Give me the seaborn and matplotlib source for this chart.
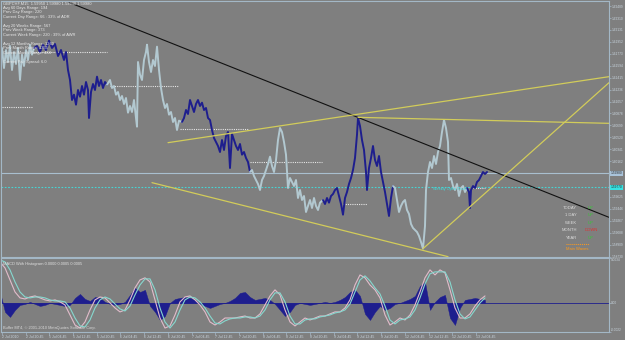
import matplotlib
matplotlib.use("Agg")
import matplotlib.pyplot as plt
import pandas as pd
import seaborn as sns

# ---------------- data ----------------
wave1_bar = [0, 2, 4, 6, 8, 10, 12, 14, 16, 18, 20, 22, 24, 26, 28, 30, 32, 34]
wave1_price = [1.6176, 1.6186, 1.6156, 1.6183, 1.6165, 1.6189, 1.6153, 1.6180, 1.6162, 1.6186,
               1.6138, 1.6176, 1.6159, 1.6183, 1.6168, 1.6191, 1.6176, 1.6186]
wave2_bar = [34, 37, 40, 43, 46, 49, 52, 55, 58, 61, 64, 66, 68, 70, 72, 74, 76, 78, 80, 82, 84, 86,
             88, 89, 91, 93, 95, 97, 99, 101, 103, 105, 107]
wave2_price = [1.6186, 1.6189, 1.6180, 1.6191, 1.6183, 1.6197, 1.6186, 1.6192, 1.6174, 1.6183, 1.6168,
               1.6180, 1.6153, 1.6138, 1.6108, 1.6116, 1.6101, 1.6123, 1.6113, 1.6129, 1.6116, 1.6135,
               1.6123, 1.6081, 1.6120, 1.6132, 1.6123, 1.6143, 1.6129, 1.6138, 1.6126, 1.6135, 1.6131]
wave3_bar = [107, 110, 112, 114, 116, 118, 120, 122, 124, 126, 128, 130, 132, 134, 136, 137, 138, 140,
             142, 144, 146, 147, 149, 151, 153, 155, 157, 159, 161, 163, 165, 167, 169, 171, 173, 175,
             177, 179, 182]
wave3_price = [1.6131, 1.6138, 1.6126, 1.6129, 1.6116, 1.6120, 1.6108, 1.6114, 1.6102, 1.6111, 1.6089,
               1.6099, 1.6090, 1.6108, 1.6081, 1.6068, 1.6165, 1.6146, 1.6138, 1.6168, 1.6180, 1.6191,
               1.6165, 1.6150, 1.6168, 1.6159, 1.6188, 1.6153, 1.6126, 1.6108, 1.6096, 1.6102, 1.6086,
               1.6090, 1.6075, 1.6081, 1.6063, 1.6077, 1.6075]
wave4_bar = [182, 184, 186, 188, 190, 192, 194, 196, 198, 200, 202, 204, 206, 208, 210, 212, 214, 216,
             218, 220, 222, 224, 226, 228, 230, 232, 234, 236, 238, 240, 242, 244, 246, 248, 250]
wave4_price = [1.6075, 1.6081, 1.6093, 1.6087, 1.6108, 1.6099, 1.6090, 1.6102, 1.6108, 1.6099, 1.6104,
               1.6093, 1.6096, 1.6081, 1.6078, 1.6063, 1.6051, 1.6045, 1.6039, 1.6030, 1.6048, 1.6033,
               1.6054, 1.6060, 1.6006, 1.6057, 1.6048, 1.6039, 1.6033, 1.6042, 1.6026, 1.6030, 1.6021,
               1.6015, 1.6000]
wave5_bar = [250, 252, 254, 256, 258, 260, 262, 264, 266, 268, 270, 272, 274, 276, 278, 280, 282, 284,
             286, 288, 290, 292, 294, 296, 298, 300, 302, 304, 306, 308, 310, 312, 314, 316, 318, 320, 323]
wave5_price = [1.6000, 1.6003, 1.5994, 1.5988, 1.5982, 1.5973, 1.5988, 1.5994, 1.6003, 1.6012, 1.6023,
               1.6009, 1.6000, 1.6018, 1.6048, 1.6066, 1.6060, 1.6045, 1.6026, 1.5976, 1.5991, 1.5985,
               1.5979, 1.5988, 1.5961, 1.5973, 1.5958, 1.5964, 1.5940, 1.5949, 1.5958, 1.5946, 1.5961,
               1.5949, 1.5943, 1.5954, 1.5958]
wave6_bar = [323, 325, 327, 329, 331, 333, 335, 337, 339, 341, 343, 345, 347, 349, 351, 353, 355, 357,
             358, 360, 362, 364, 366, 367, 369, 371, 373, 375, 377, 379, 381, 383, 385, 387, 389, 391, 393]
wave6_price = [1.5958, 1.5952, 1.5961, 1.5954, 1.5964, 1.5967, 1.5973, 1.5976, 1.5964, 1.5952, 1.5936,
               1.5961, 1.5970, 1.5982, 1.5991, 1.6003, 1.6021, 1.6056, 1.6081, 1.6069, 1.6048, 1.6033,
               1.6000, 1.5973, 1.6006, 1.6021, 1.6039, 1.6018, 1.6009, 1.6024, 1.6000, 1.5985, 1.5970,
               1.5952, 1.5934, 1.5961, 1.5979]
wave7_bar = [393, 395, 397, 399, 401, 403, 405, 407, 409, 411, 413, 415, 417, 419, 421, 423, 425, 426,
             428, 430, 432, 434, 436, 438, 440, 442, 444, 446, 448, 449, 451, 453, 455, 457, 459, 461,
             463, 465, 467]
wave7_price = [1.5979, 1.5976, 1.5958, 1.5940, 1.5949, 1.5955, 1.5958, 1.5943, 1.5937, 1.5922, 1.5916,
               1.5913, 1.5910, 1.5904, 1.5895, 1.5885, 1.5919, 1.5973, 1.6000, 1.6015, 1.6006, 1.6024,
               1.6012, 1.6030, 1.6039, 1.6060, 1.6078, 1.6066, 1.6045, 1.5988, 1.5991, 1.5979, 1.5973,
               1.5982, 1.5964, 1.5976, 1.5979, 1.5970, 1.5976]
wave8_bar = [467, 469, 470, 471, 473, 475, 477, 479, 481, 483, 485, 487]
wave8_price = [1.5976, 1.5970, 1.5946, 1.5973, 1.5979, 1.5976, 1.5985, 1.5988, 1.5994, 1.6000,
               1.5997, 1.6000]

bid_price = 1.59980
weekly_open_price = 1.59770

level_start = [2, 33, 110, 180, 250, 343, 473]
level_end = [33, 107, 178, 248, 322, 367, 485]
level_price = [1.6098, 1.6180, 1.6129, 1.6065, 1.6015, 1.5952, 1.5976]

black_bar = [68, 609]
black_price = [1.6255, 1.5932]
yellow_lines_bar = [[168, 609], [358, 609], [423, 609], [152, 448]]
yellow_lines_price = [[1.6044, 1.6143], [1.6082, 1.6073], [1.5885, 1.6134], [1.5984, 1.5873]]

price_ticks = [1.58730, 1.58909, 1.59088, 1.59267, 1.59446, 1.59625, 1.60162, 1.60341,
               1.60520, 1.60699, 1.60878, 1.61057, 1.61236, 1.61415, 1.61594, 1.61773,
               1.61952, 1.62131, 1.62310, 1.62489]

macd_bar = list(range(0, 490, 5))
macd_main = [0.0031, 0.00265, 0.00174, 0.00083, 0.00038, 0.00030, 0.00045, 0.00053, 0.00038, 0.00023,
             0.00015, 0.00023, 0.00008, -0.00015, -0.00091, -0.00167, -0.00190, -0.00144, -0.00053, 0.00023,
             0.00045, 0.00038, 0.0, -0.00038, -0.00068, -0.00053, 0.00023, 0.00114, 0.00174, 0.00190,
             0.00159, 0.00023, -0.00114, -0.00190, -0.00174, -0.00091, 0.00008, 0.00045, 0.00053, 0.00023,
             -0.00015, -0.00068, -0.00144, -0.00167, -0.00144, -0.00114, -0.00114, -0.00114, -0.00106, -0.00099,
             -0.00114, -0.00114, -0.00083, -0.00015, 0.00053, 0.00099, 0.00061, -0.00053, -0.00144, -0.00174,
             -0.00144, -0.00114, -0.00129, -0.00114, -0.00099, -0.00099, -0.00083, -0.00068, -0.00068, -0.00038,
             0.00023, 0.00136, 0.00212, 0.00190, 0.00136, 0.00099, 0.00038, -0.00091, -0.00167, -0.00144,
             -0.00114, -0.00129, -0.00091, -0.00015, 0.00083, 0.00190, 0.00250, 0.00212, 0.00250, 0.00227,
             0.00099, -0.00038, -0.00114, -0.00114, -0.00083, -0.00023, 0.00023, 0.00053]
macd_signal = [0.00326, 0.0031, 0.00250, 0.00159, 0.00083, 0.00045, 0.00038, 0.00045, 0.00045, 0.00038,
               0.00023, 0.00015, 0.00015, 0.00008, -0.00038, -0.00114, -0.00174, -0.00182, -0.00129, -0.00038,
               0.00023, 0.00045, 0.00030, -0.00008, -0.00045, -0.00061, -0.00023, 0.00061, 0.00136, 0.00182,
               0.00182, 0.00099, -0.00038, -0.00144, -0.00190, -0.00144, -0.00053, 0.00023, 0.00045, 0.00038,
               0.00008, -0.00038, -0.00099, -0.00152, -0.00159, -0.00136, -0.00121, -0.00114, -0.00114, -0.00106,
               -0.00106, -0.00114, -0.00099, -0.00053, 0.00023, 0.00076, 0.00076, 0.00008, -0.00099, -0.00159,
               -0.00159, -0.00129, -0.00121, -0.00121, -0.00106, -0.00099, -0.00091, -0.00076, -0.00068, -0.00053,
               -0.00008, 0.00083, 0.00174, 0.00205, 0.00167, 0.00114, 0.00068, -0.00023, -0.00129, -0.00159,
               -0.00129, -0.00121, -0.00106, -0.00053, 0.00038, 0.00144, 0.00220, 0.00235, 0.00235, 0.00235,
               0.00159, 0.00023, -0.00083, -0.00121, -0.00106, -0.00053, 0.0, 0.00038]
macd_hist = [0.00083, -0.00068, -0.00106, -0.00053, -0.00015, -0.00008, 0.00008, -0.00008, -0.00023, -0.00015,
             0.0, -0.00008, -0.00015, -0.00023, -0.00015, 0.00038, 0.00068, 0.00030, 0.00015, 0.00045,
             0.00038, 0.00008, -0.00008, -0.00015, -0.00008, 0.00008, 0.00061, 0.00114, 0.00083, 0.00099,
             -0.00023, -0.00068, -0.00129, -0.00099, 0.0, 0.00030, 0.00038, 0.00045, 0.00038, 0.00023,
             -0.00008, -0.00023, -0.00038, -0.00023, -0.00008, 0.0, 0.00015, 0.00038, 0.00076, 0.00083,
             0.00045, 0.00023, 0.00030, 0.00038, 0.00023, -0.00008, -0.00053, -0.00099, -0.00068, -0.00015,
             0.0, -0.00008, -0.00015, -0.00008, 0.0, 0.00008, 0.0, 0.00008, 0.00023, 0.00045,
             0.00083, 0.00099, 0.00053, -0.00083, -0.00129, -0.00068, -0.00023, -0.00053, -0.00038, -0.00008,
             0.0, 0.00015, 0.00030, 0.00053, 0.00129, 0.00159, -0.00053, 0.00008, 0.00045, 0.00061,
             -0.00114, -0.00167, -0.00038, 0.00023, 0.00030, 0.00038, 0.00030, 0.00023]
macd_ticks = [0.0034, 0.0, -0.0022]
macd_tick_labels = ["0.0034", "0.00", "-0.0022"]

time_tick_bars = [2, 26, 49, 73, 97, 120, 144, 168, 192, 215, 239, 263, 286, 310, 334, 357, 381,
                  405, 429, 452, 476]
time_tick_labels = ["2 Jul 2010", "2 Jul 20:45", "5 Jul 04:45", "5 Jul 12:45", "5 Jul 20:45",
                    "6 Jul 04:45", "6 Jul 12:45", "6 Jul 20:45", "7 Jul 04:45", "7 Jul 12:45",
                    "7 Jul 20:45", "8 Jul 04:45", "8 Jul 12:45", "8 Jul 20:45", "9 Jul 04:45",
                    "9 Jul 12:45", "9 Jul 20:45", "12 Jul 04:45", "12 Jul 12:45", "12 Jul 20:45",
                    "13 Jul 04:45"]

info_lines = ["GBPCHF,M15  1.59950 1.59980 1.59940 1.59980",
              "Avg 60 Days Range: 194", "Prev Day Range: 220", "Current Day Range: 66 : 33% of ADR",
              "", "Avg 20 Weeks Range: 567", "Prev Week Range: 373", "Current Week Range: 220 : 39% of AWR",
              "", "Avg 12 Months Range: 1260", "Prev Month Range: 1355", "Current Month Range: 484",
              "", "Current Pair Spread: 6.0"]
trend_names = ["TODAY", "1 DAY", "WEEK", "MONTH", "YEAR"]
trend_states = ["UP", "UP", "UP", "DOWN", "UP"]

# ---------------- style ----------------
BG = "#7f7f7f"
FRAME = "#a3b7c6"
TXT = "#c9d5de"
LIGHT = "#b2c8d0"
NAVY = "#1e1e8e"
YEL = "#d2cc5a"

sns.set_theme(style="dark", rc={"axes.facecolor": BG, "figure.facecolor": BG})
plt.rcParams["font.family"] = ["Liberation Sans", "DejaVu Sans"]

W, H = 625, 340
fig = plt.figure(figsize=(W / 100, H / 100), dpi=100)


def fx(px):
    return px / W


def fy(py):
    return 1 - py / H


ax = fig.add_axes([fx(1), fy(257), fx(608), 256 / H])
axm = fig.add_axes([fx(1), fy(332), fx(608), 74 / H], sharex=ax)

for a in (ax, axm):
    a.set_facecolor(BG)
    for s in a.spines.values():
        s.set_color(FRAME)
        s.set_linewidth(0.8)
    a.grid(False)

# ---- main chart ----
waves = [(wave1_bar, wave1_price), (wave2_bar, wave2_price), (wave3_bar, wave3_price),
         (wave4_bar, wave4_price), (wave5_bar, wave5_price), (wave6_bar, wave6_price),
         (wave7_bar, wave7_price), (wave8_bar, wave8_price)]
frames = []
for i, (b, p) in enumerate(waves):
    frames.append(pd.DataFrame({"bar": b, "price": p, "wave": i}))
df = pd.concat(frames, ignore_index=True)
pal = {i: (LIGHT if i % 2 == 0 else NAVY) for i in range(len(waves))}

ax.hlines(level_price, level_start, level_end, colors="#e6e6e6", linestyles=(0, (1, 1)), linewidth=0.8)
ax.axhline(bid_price, color="#a9bfcf", lw=0.8)
ax.axhline(weekly_open_price, color="#45d6d6", lw=0.8, ls=(0, (1.5, 1.5)))

sns.lineplot(data=df, x="bar", y="price", hue="wave", palette=pal, estimator=None, sort=False,
             legend=False, linewidth=1.4, ax=ax)

ax.plot(black_bar, black_price, color="#111111", lw=0.8)
for b, p in zip(yellow_lines_bar, yellow_lines_price):
    ax.plot(b, p, color=YEL, lw=0.9)

ax.set_xlim(1, 609)
ax.set_ylim(1.58725, 1.62565)
ax.set_yticks(price_ticks)
ax.set_yticklabels([f"{v:.5f}" for v in price_ticks])
ax.yaxis.tick_right()
ax.tick_params(axis="y", which="both", left=False, right=True, labelleft=False, labelright=True,
               length=1.2, width=0.5, color=FRAME, labelsize=2.35, labelcolor=TXT, pad=0.4)
ax.tick_params(axis="x", bottom=False, labelbottom=False)
ax.set_xlabel("")
ax.set_ylabel("")

# highlighted price labels
ax.text(1.003, bid_price, f"{bid_price:.5f}", transform=ax.get_yaxis_transform(), fontsize=2.35,
        color="#2a2a2a", va="center", ha="left",
        bbox=dict(boxstyle="square,pad=0.15", fc="#a9c3da", ec="none"))
ax.text(1.003, weekly_open_price, f"{weekly_open_price:.5f}", transform=ax.get_yaxis_transform(),
        fontsize=2.35, color="#2a2a2a", va="center", ha="left",
        bbox=dict(boxstyle="square,pad=0.15", fc="#38e2e2", ec="none"))

ax.text(433, weekly_open_price - 0.0002, "Weekly Open Level", fontsize=2.8, color="#40dede",
        va="center", ha="left")

# info text
for i, line in enumerate(info_lines):
    if line:
        fig.text(fx(3), fy(3.5 + i * 4.5), line, fontsize=2.9, color="#e8e8e8", va="center", ha="left")

# trend table
rows_y = [208, 215.5, 222.5, 230, 238]
for name, state, yy in zip(trend_names, trend_states, rows_y):
    fig.text(fx(577), fy(yy), name, fontsize=3.0, color="#dcdcdc", ha="right", va="center")
    fig.text(fx(591), fy(yy), state, fontsize=3.0, ha="center", va="center",
             color="#2fcf2f" if state == "UP" else "#e03030")
fig.add_artist(plt.Line2D([fx(566), fx(589)], [fy(244), fy(244)], color="#ff9a1a", lw=0.7,
                          ls=(0, (1, 1))))
fig.text(fx(577), fy(248.5), "Main Waves", fontsize=3.0, color="#ff9a1a", ha="center", va="center")

# ---- MACD panel ----
dm = pd.DataFrame({"bar": macd_bar, "macd": macd_main, "signal": macd_signal, "hist": macd_hist})
axm.axhline(0, color=NAVY, lw=0.6)
axm.fill_between(dm["bar"], 0, dm["hist"], color=NAVY, lw=0.3, ec=NAVY)
sns.lineplot(data=dm, x="bar", y="macd", color="#e2bccb", lw=0.8, ax=axm)
sns.lineplot(data=dm, x="bar", y="signal", color="#86d8cf", lw=0.8, ax=axm)
axm.set_ylim(-0.0022, 0.0034)
axm.set_yticks(macd_ticks)
axm.set_yticklabels(macd_tick_labels)
axm.yaxis.tick_right()
axm.tick_params(axis="y", left=False, right=True, labelleft=False, labelright=True, length=1.2,
                width=0.5, color=FRAME, labelsize=2.35, labelcolor=TXT, pad=0.4)
for lbl, va in zip(axm.get_yticklabels(), ["top", "center", "bottom"]):
    lbl.set_va(va)
axm.set_xticks(time_tick_bars)
axm.set_xticklabels(time_tick_labels)
axm.tick_params(axis="x", bottom=True, length=2, width=0.5, color=FRAME, labelsize=2.5,
                labelcolor=TXT, pad=0.5)
for lbl in axm.get_xticklabels():
    lbl.set_ha("left")
axm.set_xlabel("")
axm.set_ylabel("")
axm.set_xlim(1, 609)

axm.text(0.004, 0.95, "MACD With Histogram 0.0000 0.0005 0.0005", transform=axm.transAxes,
         fontsize=2.9, color="#e0e0e0", va="top", ha="left")
axm.text(0.004, 0.03, "Buffer MT4, \u00a9 2001-2010 MetaQuotes Software Corp.", transform=axm.transAxes,
         fontsize=2.8, color="#d8d8d8", va="bottom", ha="left")

fig.savefig("out.png", dpi=100, facecolor=BG)
